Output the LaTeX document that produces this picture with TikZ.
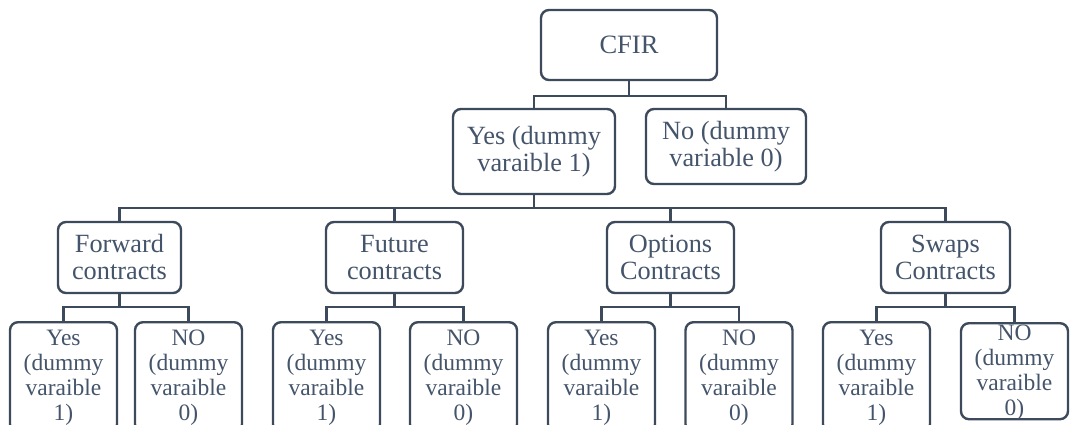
\documentclass[tikz,border=0pt]{standalone}
\usepackage{fontspec}
\setmainfont{Liberation Serif}
\definecolor{linec}{RGB}{61,74,92}
\definecolor{textc}{RGB}{68,84,106}
% body of a bottom-level box: text hangs from the top edge
\newcommand\leafbody[4]{\parbox[c][#3][t]{104pt}{\centering\rule{0pt}{#4}#1\\(dummy\\varaible\\#2}}
\begin{document}
\begin{tikzpicture}[x=1pt,y=-1pt,
  box/.style={draw=linec, text=textc, rounded corners=8pt, align=center,
              inner sep=0pt, line width=2.4pt},
  rootbox/.style={box, font=\fontsize{26.5}{30}\selectfont},
  midbox/.style={box, font=\fontsize{26.3}{27}\selectfont},
  leafbox/.style={box, anchor=north, minimum width=107pt,
                  font=\fontsize{23.5}{25}\selectfont},
  link/.style={draw=linec, line width=2.4pt}]
\useasboundingbox (0,0) rectangle (1072,425);
\clip (0,0) rectangle (1072,425);

% root and first split
\node[rootbox, minimum width=176pt, minimum height=70pt] (cfir) at (629,45) {CFIR};
\node[midbox, minimum width=162pt, minimum height=85pt] (yes) at (534,151.5) {Yes (dummy\\varaible 1)};
\node[midbox, minimum width=160pt, minimum height=75pt] (no) at (726,146.5) {No (dummy\\variable 0)};

% contract types
\node[midbox, minimum width=123pt, minimum height=71pt] (fwd) at (119.5,257.5) {Forward\\contracts};
\node[midbox, minimum width=137pt, minimum height=71pt] (fut) at (394.5,257.5) {Future\\contracts};
\node[midbox, minimum width=127pt, minimum height=71pt] (opt) at (670.5,257.5) {Options\\Contracts};
\node[midbox, minimum width=129pt, minimum height=71pt] (swp) at (945.5,257.5) {Swaps\\Contracts};

% yes / no leaves
\node[leafbox] (fwdy) at (63.5,321) {\leafbody{Yes}{1)}{110pt}{23pt}};
\node[leafbox] (fwdn) at (188.5,321) {\leafbody{NO}{0)}{110pt}{23pt}};
\node[leafbox] (futy) at (326.5,321) {\leafbody{Yes}{1)}{110pt}{23pt}};
\node[leafbox] (futn) at (463.5,321) {\leafbody{NO}{0)}{110pt}{23pt}};
\node[leafbox] (opty) at (601.5,321) {\leafbody{Yes}{1)}{110pt}{23pt}};
\node[leafbox] (optn) at (739,321) {\leafbody{NO}{0)}{110pt}{23pt}};
\node[leafbox] (swpy) at (876.5,321) {\leafbody{Yes}{1)}{110pt}{23pt}};
\node[leafbox] (swpn) at (1014.5,322) {\leafbody{NO}{0)}{96pt}{17pt}};

% elbow connectors
\draw[link] (cfir.south) -- ++(0,15) -| (yes.north);
\draw[link] (cfir.south) -- ++(0,15) -| (no.north);
\foreach \c in {fwd,fut,opt,swp}
  \draw[link] (yes.south) -- ++(0,13) -| (\c.north);
\foreach \p in {fwd,fut,opt,swp}{
  \draw[link] (\p.south) -- ++(0,13) -| (\p y.north);
  \draw[link] (\p.south) -- ++(0,13) -| (\p n.north);
}
\end{tikzpicture}
\end{document}
